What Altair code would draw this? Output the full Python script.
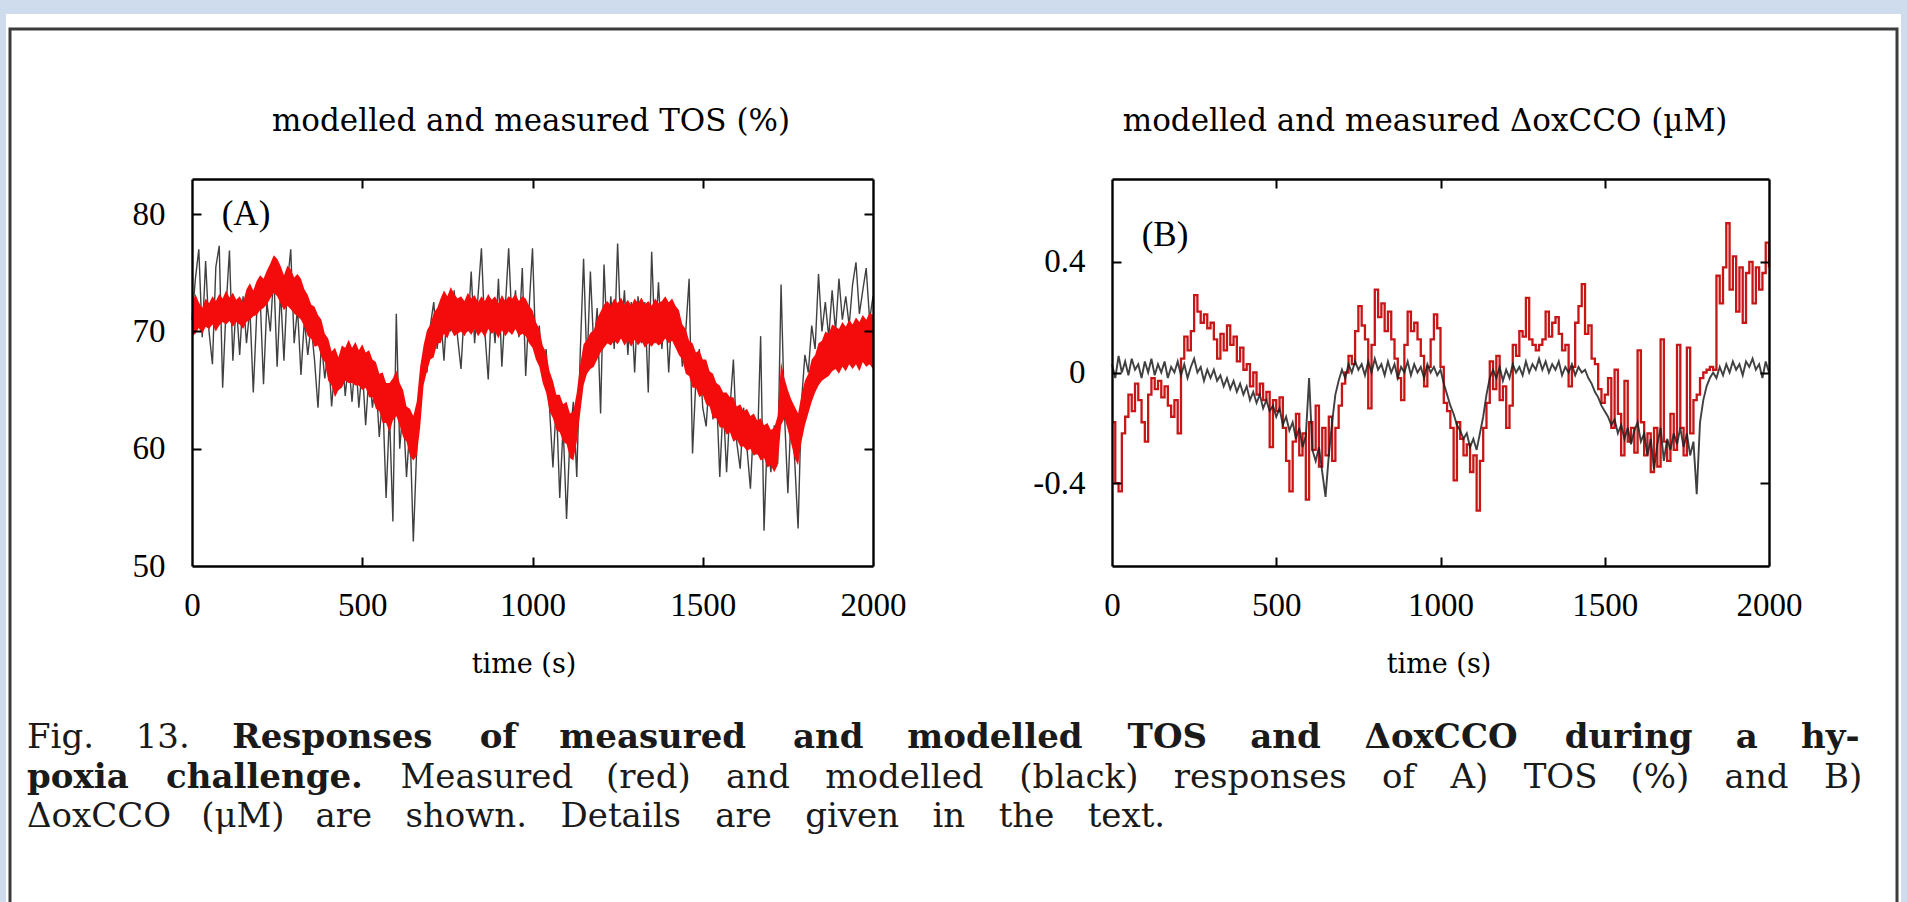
import altair as alt
import pandas as pd

# ---------------- data ----------------
t = list(range(0, 2001, 10))

# panel A, measured TOS (red): upper / lower edge of the dense noisy trace
tos_meas_hi = [
    72.3, 73.2, 72.5, 72.0, 72.8, 72.4, 73.0, 72.6, 73.2, 72.8,
    73.5, 72.9, 73.3, 72.7, 73.0, 72.5, 73.6, 74.1, 73.5, 74.3,
    74.8, 74.5, 75.2, 75.8, 76.5, 76.2, 75.6, 74.8, 75.6, 75.3,
    74.6, 74.9, 74.5, 73.6, 73.1, 72.3, 72.1, 71.4, 71.0, 69.8,
    69.4, 68.3, 68.6, 67.8, 68.8, 68.6, 69.3, 68.6, 69.1, 68.4,
    68.9, 68.2, 68.4, 67.6, 67.4, 66.4, 66.5, 65.6, 65.6, 66.0,
    66.7, 65.6, 65.0, 63.6, 63.4, 62.8, 64.0, 67.0, 68.8, 70.1,
    70.6, 71.6, 72.0, 72.8, 73.5, 73.0, 73.8, 73.2, 72.8, 73.0,
    72.6, 73.3, 72.8, 73.1, 72.5, 73.0, 72.6, 73.2, 72.7, 73.0,
    72.4, 73.1, 72.6, 73.0, 72.8, 73.2, 72.6, 73.0, 72.8, 72.2,
    71.8, 70.8, 70.2, 68.8, 68.2, 66.6, 65.8, 64.6, 64.6, 63.8,
    64.0, 63.0, 63.2, 64.8, 67.2, 68.9, 69.3, 69.9, 70.1, 71.1,
    71.7, 72.3, 72.6, 72.2, 72.8, 72.4, 72.9, 72.3, 72.7, 72.2,
    72.8, 72.4, 72.9, 72.3, 72.6, 72.2, 72.8, 72.4, 72.6, 73.0,
    72.5, 72.8, 72.2, 71.8, 70.6, 70.2, 69.2, 69.0, 68.2, 68.4,
    67.6, 67.6, 66.6, 66.4, 65.6, 65.4, 64.8, 64.8, 64.4, 64.4,
    63.6, 63.8, 63.2, 63.4, 62.8, 63.0, 62.4, 62.6, 62.0, 62.2,
    61.6, 61.8, 62.8, 67.4, 66.0, 65.0, 64.2, 63.6, 63.0, 64.6,
    65.8, 66.4, 67.6, 68.0, 69.0, 69.2, 70.0, 69.8, 70.6, 70.4,
    70.2, 70.8, 70.4, 71.0, 70.6, 71.2, 70.8, 71.4, 71.0, 71.6,
    71.4,
]
tos_meas_lo = [
    69.6, 69.8, 70.3, 69.8, 70.4, 70.2, 70.6, 70.0, 70.5, 70.8,
    70.6, 70.9, 70.4, 70.8, 70.6, 70.2, 70.8, 71.0, 71.3, 71.4,
    71.8, 72.0, 72.3, 72.8, 73.3, 73.0, 72.4, 71.8, 72.2, 71.9,
    71.5, 71.3, 71.0, 70.4, 69.6, 69.4, 68.7, 68.8, 67.8, 67.4,
    65.8, 65.4, 64.4, 65.0, 65.2, 65.8, 65.6, 65.6, 65.4, 65.4,
    65.0, 65.2, 64.4, 64.4, 63.4, 63.2, 62.2, 62.2, 61.4, 62.4,
    62.8, 62.0, 61.0, 60.6, 59.4, 59.0, 59.4, 61.8, 65.4, 66.6,
    67.6, 67.8, 69.0, 69.0, 69.8, 69.4, 70.2, 69.6, 69.8, 70.0,
    69.6, 70.1, 69.7, 70.2, 69.6, 70.0, 69.5, 70.2, 69.8, 70.0,
    69.4, 70.1, 69.6, 70.0, 69.7, 70.2, 69.6, 69.8, 69.6, 69.0,
    68.6, 67.6, 67.0, 65.6, 64.8, 63.2, 62.6, 61.6, 61.4, 60.6,
    60.4, 59.2, 59.0, 60.6, 63.0, 65.4, 66.4, 66.8, 67.0, 67.6,
    68.2, 68.6, 69.0, 68.8, 69.2, 68.9, 69.4, 68.8, 69.2, 68.7,
    69.3, 68.8, 69.2, 68.6, 69.0, 68.7, 69.1, 68.8, 69.0, 69.4,
    69.0, 69.2, 68.6, 68.0, 67.6, 66.4, 66.2, 65.2, 65.2, 64.4,
    64.6, 63.8, 63.6, 62.6, 62.6, 61.8, 61.8, 61.2, 61.4, 60.6,
    60.8, 60.2, 60.2, 59.8, 60.0, 59.4, 59.6, 59.0, 59.2, 58.4,
    58.6, 58.0, 58.6, 62.0, 62.6, 61.6, 60.4, 59.2, 58.6, 60.6,
    62.0, 63.0, 64.0, 64.8, 65.4, 65.8, 66.0, 66.2, 66.6, 66.8,
    66.4, 67.0, 66.6, 67.2, 66.8, 67.2, 66.6, 67.4, 67.0, 67.2,
    66.8,
]
# panel A, modelled TOS (black, spiky)
tos_model = [
    71.0, 74.5, 77.0, 69.5, 76.0, 70.0, 67.2, 75.5, 77.3, 65.2,
    72.0, 76.9, 67.5, 72.5, 68.0, 73.0, 69.0, 72.0, 64.8, 71.5,
    73.0, 65.5, 72.5, 70.0, 75.0, 67.0, 73.5, 67.5, 74.0, 77.0,
    69.0, 72.0, 66.3, 71.0, 68.0, 70.5, 67.5, 63.5, 69.0, 66.0,
    68.5, 63.6, 67.0, 65.0, 68.5, 64.5, 67.5, 64.0, 68.0, 63.5,
    67.0, 62.0, 66.5, 63.5, 66.0, 61.0, 64.5, 55.8, 63.0, 53.8,
    71.5, 60.0, 63.5, 57.6, 62.0, 52.1, 60.0, 64.5, 68.0, 66.5,
    70.5, 72.5, 68.5, 71.5, 67.5, 72.5, 70.0, 73.5, 69.5, 66.8,
    72.0, 70.0, 75.1, 69.0, 73.0, 77.1, 70.0, 65.9, 72.5, 69.0,
    74.5, 67.0, 72.0, 77.1, 70.5, 73.5, 69.5, 75.4, 66.2, 72.0,
    77.1, 68.0, 70.5, 66.0, 68.5, 63.5, 58.4, 64.0, 55.8, 62.0,
    54.0, 61.0, 64.0, 57.6, 68.0, 76.2, 67.0, 75.1, 68.5, 72.0,
    63.0, 75.7, 69.0, 73.0, 68.5, 77.5, 69.5, 73.5, 68.0, 72.5,
    66.5, 73.0, 69.0, 72.5, 64.8, 76.8, 69.0, 74.2, 68.5, 72.5,
    66.5, 72.0, 69.0, 71.5, 67.0, 70.0, 74.5, 59.6, 66.0, 68.5,
    63.5, 61.9, 66.5, 62.5, 65.0, 57.6, 64.0, 58.0, 63.5, 67.6,
    60.5, 58.3, 63.5, 60.0, 56.6, 62.5, 59.5, 69.6, 53.0, 61.5,
    58.0, 62.0, 58.7, 74.0, 63.0, 56.2, 63.5, 59.0, 53.2, 64.0,
    68.0, 66.5, 70.5, 68.5, 74.9, 70.0, 72.5, 69.5, 73.5, 70.0,
    74.5, 71.0, 73.0, 70.5, 74.0, 75.9, 71.5, 73.5, 75.4, 71.0,
    73.0,
]
# panel B, measured dOxCCO (red, stepped)
cco_meas = [
    -0.18, -0.40, -0.43, -0.22, -0.16, -0.08, -0.14, -0.04, -0.10, -0.18,
    -0.25, -0.08, -0.02, -0.06, -0.03, -0.09, -0.05, -0.12, -0.16, -0.10,
    -0.22, 0.05, 0.13, 0.08, 0.15, 0.28, 0.22, 0.18, 0.21, 0.16,
    0.18, 0.12, 0.05, 0.14, 0.08, 0.17, 0.10, 0.13, 0.04, 0.09,
    0.01, 0.03, -0.05, 0.00, -0.08, -0.04, -0.10, -0.07, -0.27, -0.10,
    -0.14, -0.09, -0.20, -0.32, -0.43, -0.25, -0.15, -0.30, -0.22, -0.46,
    -0.18, -0.28, -0.12, -0.34, -0.20, -0.30, -0.16, -0.32, -0.20, -0.12,
    -0.04, 0.00, 0.06, 0.03, 0.15, 0.24, 0.17, 0.12, -0.13, 0.10,
    0.30, 0.20, 0.25, 0.15, 0.22, 0.12, 0.05, -0.02, -0.10, 0.10,
    0.22, 0.15, 0.18, 0.12, 0.06, -0.05, 0.02, 0.12, 0.21, 0.16,
    0.02, -0.11, -0.14, -0.20, -0.39, -0.18, -0.24, -0.30, -0.26, -0.36,
    -0.30, -0.50, -0.32, -0.20, -0.11, 0.04, -0.06, 0.06, -0.10, -0.05,
    -0.20, -0.12, 0.10, 0.06, 0.15, 0.13, 0.27, 0.12, 0.10, 0.08,
    0.10, 0.12, 0.22, 0.13, 0.18, 0.20, 0.14, 0.08, 0.10, -0.05,
    0.02, 0.18, 0.24, 0.32, 0.14, 0.17, 0.05, 0.03, -0.06, -0.11,
    -0.08, -0.02, -0.20, 0.01, -0.15, -0.30, -0.03, -0.25, -0.20, -0.29,
    0.08, -0.18, -0.30, -0.22, -0.36, -0.20, -0.34, 0.12, -0.25, -0.32,
    -0.15, -0.28, 0.10, -0.20, -0.30, 0.09, -0.22, -0.10, -0.08, -0.02,
    0.00, 0.01, 0.02, 0.01, 0.35, 0.25, 0.38, 0.54, 0.30, 0.42,
    0.22, 0.38, 0.18, 0.36, 0.40, 0.25, 0.38, 0.30, 0.36, 0.47,
    0.38,
]
# panel B, modelled dOxCCO (black)
cco_model = [
    0.03, -0.02, 0.06, 0.00, 0.04, -0.01, 0.05, 0.01, 0.03, -0.02,
    0.04, 0.00, 0.05, -0.01, 0.03, 0.00, 0.04, -0.02, 0.02, 0.00,
    0.04, -0.01, 0.03, -0.02, 0.02, 0.05, 0.00, 0.02, -0.03, 0.01,
    -0.02, 0.01, -0.03, -0.01, -0.05, -0.02, -0.06, -0.03, -0.07, -0.04,
    -0.08, -0.05, -0.10, -0.07, -0.11, -0.08, -0.13, -0.10, -0.14, -0.12,
    -0.16, -0.13, -0.19, -0.16, -0.21, -0.18, -0.24, -0.20, -0.27, -0.23,
    -0.02, -0.28, -0.32, -0.27, -0.36, -0.45, -0.30, -0.18, -0.08, -0.03,
    0.01, -0.02, 0.03, 0.00, 0.04, 0.01, 0.03, -0.01, 0.04, 0.00,
    0.05, 0.01, 0.03, -0.01, 0.04, 0.00, 0.03, -0.02, 0.02, 0.00,
    0.04, -0.01, 0.03, 0.00, 0.02, -0.02, 0.03, 0.00, 0.02, -0.01,
    0.01, -0.04, -0.08, -0.12, -0.15, -0.19, -0.21, -0.24, -0.22, -0.27,
    -0.24, -0.28, -0.22, -0.16, -0.08, -0.02, 0.01, -0.02, 0.02, -0.03,
    0.01, -0.02, 0.03, 0.00, 0.02, -0.01, 0.04, 0.00, 0.03, 0.01,
    0.05, 0.01, 0.04, 0.00, 0.03, 0.01, 0.04, -0.01, 0.02, 0.00,
    0.03, -0.01, 0.02, 0.00, 0.01, -0.02, -0.04, -0.07, -0.09, -0.12,
    -0.14, -0.16, -0.19, -0.17, -0.22, -0.19, -0.24, -0.20, -0.26, -0.21,
    -0.18, -0.25, -0.22, -0.30, -0.24, -0.35, -0.26, -0.20, -0.32, -0.24,
    -0.28, -0.22, -0.26, -0.20, -0.27, -0.22, -0.30, -0.25, -0.44, -0.18,
    -0.10, -0.05, -0.02, 0.00, -0.02, 0.02, -0.01, 0.03, 0.00, 0.04,
    0.01, 0.03, -0.01, 0.04, 0.02, 0.05, 0.01, 0.03, -0.02, 0.04,
    0.00,
]

x_ticks = [0, 500, 1000, 1500, 2000]
x_inner_ticks = [500, 1000, 1500]
tos_ticks = [50, 60, 70, 80]
tos_inner_ticks = [60, 70, 80]
cco_ticks = [-0.4, 0, 0.4]
x_domain = [0, 2000]
tos_domain = [50, 83]
cco_domain = [-0.7, 0.7]

title_a = "modelled and measured TOS (%)"
title_b = "modelled and measured \u0394oxCCO (\u00b5M)"
panel_a = "(A)"
panel_b = "(B)"
x_title = "time (s)"
caption = [
    [("Fig.", False), ("13.", False), ("Responses", True), ("of", True),
     ("measured", True), ("and", True), ("modelled", True), ("TOS", True),
     ("and", True), ("\u0394oxCCO", True), ("during", True), ("a", True),
     ("hy-", True)],
    [("poxia", True), ("challenge.", True), ("Measured", False), ("(red)", False),
     ("and", False), ("modelled", False), ("(black)", False), ("responses", False),
     ("of", False), ("A)", False), ("TOS", False), ("(%)", False), ("and", False),
     ("B)", False)],
    [("\u0394oxCCO", False), ("(\u03bcM)", False), ("are", False), ("shown.", False),
     ("Details", False), ("are", False), ("given", False), ("in", False),
     ("the", False), ("text.", False)],
]

# ---------------- layout ----------------
W, H = 1907, 902
AX0, AX1 = 192, 873
BX0, BX1 = 1112, 1769
YT, YB = 179, 566
SERIF = "DejaVu Serif"
TIMES = "Liberation Serif"
RED_A = "#f40c0c"
RED_B = "#c81616"
BLACK = "#1e1e1e"
BLUE_BG = "#cfdcee"

LINE_X = [(27, 1860), (27, 1861), (27, 1165)]
LINE_Y = [738, 778, 817]
CAP_SIZE = 34

CW = {' ': 0.318, 'a': 0.597, 'b': 0.640, 'c': 0.560, 'd': 0.640, 'e': 0.592,
      'f': 0.371, 'g': 0.640, 'h': 0.645, 'i': 0.320, 'j': 0.313, 'k': 0.604,
      'l': 0.320, 'm': 0.960, 'n': 0.645, 'o': 0.602, 'p': 0.640, 'q': 0.640,
      'r': 0.478, 's': 0.513, 't': 0.400, 'u': 0.645, 'v': 0.565, 'w': 0.856,
      'x': 0.564, 'y': 0.565, 'z': 0.527, 'A': 0.722, 'B': 0.700, 'C': 0.733,
      'D': 0.824, 'F': 0.665, 'M': 0.948, 'O': 0.787, 'R': 0.764, 'S': 0.644,
      'T': 0.670, '.': 0.318, '(': 0.390, ')': 0.390, '%': 0.950, '-': 0.338,
      '\u0394': 0.722, '\u03bc': 0.650}
for d in "0123456789":
    CW[d] = 0.636


def word_width(word, bold):
    return sum(CW.get(c, 0.6) for c in word) * CAP_SIZE * (1.12 if bold else 1.0)


rows = []
for words, (x0, x1), y in zip(caption, LINE_X, LINE_Y):
    widths = [word_width(w, b) for w, b in words]
    gap = (x1 - x0 - sum(widths)) / (len(words) - 1)
    x = x0
    for (w, b), wd in zip(words, widths):
        rows.append({"text": w, "x": x, "y": y, "bold": b})
        x += wd + gap
cap_df = pd.DataFrame(rows)


def ax(orient, offset, values, labels=False, domain=False, tick=0, **kw):
    return alt.Axis(orient=orient, offset=offset, values=values, labels=labels,
                    domain=domain, ticks=tick > 0, tickSize=tick, grid=False,
                    title=None, zindex=1, domainColor="black", domainWidth=2.4,
                    tickColor="black", tickWidth=2, labelFont=TIMES,
                    labelFontSize=33, labelColor="black", labelFlush=False,
                    labelOverlap=False, **kw)


one = pd.DataFrame({"k": [0]})

# decorations: page band and white figure box
bg_white = alt.Chart(one).mark_rect(fill="white").encode(
    x=alt.value(6), x2=alt.value(1901), y=alt.value(14), y2=alt.value(H + 5))
box = alt.Chart(one).mark_rect(fill="white", stroke="#3c3c3c", strokeWidth=3).encode(
    x=alt.value(10), x2=alt.value(1897), y=alt.value(29), y2=alt.value(H + 10))

# ---------- panel A ----------
dfA = pd.DataFrame({"t": t, "hi": tos_meas_hi, "lo": tos_meas_lo, "model": tos_model})
xA = alt.Scale(domain=x_domain, range=[AX0, AX1], nice=False)
yA = alt.Scale(domain=tos_domain, range=[YB, YT], nice=False, zero=False)
a_model = alt.Chart(dfA).mark_line(color=BLACK, strokeWidth=1.4, opacity=0.85).encode(
    x=alt.X("t:Q", scale=xA, axis=ax("bottom", YB - H, x_ticks, labels=True,
                                     domain=True, labelPadding=23, format="d")),
    y=alt.Y("model:Q", scale=yA, axis=ax("left", -AX0, tos_ticks, labels=True,
                                         domain=True, labelPadding=27)))
a_band = alt.Chart(dfA).mark_area(color=RED_A, opacity=1).encode(
    x=alt.X("t:Q", scale=xA, axis=ax("top", -YB, x_inner_ticks, tick=9)),
    y=alt.Y("lo:Q", scale=yA, axis=ax("right", AX0 - W, tos_inner_ticks, tick=9)),
    y2="hi:Q")
a_frame = alt.Chart(dfA).mark_line(opacity=0).encode(
    x=alt.X("t:Q", scale=xA, axis=ax("bottom", YT - H, x_inner_ticks, domain=True, tick=9)),
    y=alt.Y("model:Q", scale=yA, axis=ax("left", -AX1, tos_inner_ticks, domain=True, tick=9)))
panelA = alt.layer(a_model, a_band, a_frame).resolve_axis(x="independent", y="independent")

# ---------- panel B ----------
dfB = pd.DataFrame({"t": t, "meas": cco_meas, "model": cco_model})
xB = alt.Scale(domain=x_domain, range=[BX0, BX1], nice=False)
yB = alt.Scale(domain=cco_domain, range=[YB, YT], nice=False, zero=False)
cco_label = ("datum.value < 0 ? '-' + format(-datum.value, '.1f') : "
             "(datum.value == 0 ? '0' : format(datum.value, '.1f'))")
b_meas = alt.Chart(dfB).mark_line(color=RED_B, strokeWidth=2.3,
                                  interpolate="step-after").encode(
    x=alt.X("t:Q", scale=xB, axis=ax("bottom", YB - H, x_ticks, labels=True,
                                     domain=True, labelPadding=23, format="d")),
    y=alt.Y("meas:Q", scale=yB, axis=ax("left", -BX0, cco_ticks, labels=True,
                                        domain=True, labelPadding=27,
                                        labelExpr=cco_label)))
b_model = alt.Chart(dfB).mark_line(color=BLACK, strokeWidth=1.9, opacity=0.85).encode(
    x=alt.X("t:Q", scale=xB, axis=ax("top", -YB, x_inner_ticks, tick=9)),
    y=alt.Y("model:Q", scale=yB, axis=ax("right", BX0 - W, cco_ticks, tick=9)))
b_frame = alt.Chart(dfB).mark_line(opacity=0).encode(
    x=alt.X("t:Q", scale=xB, axis=ax("bottom", YT - H, x_inner_ticks, domain=True, tick=9)),
    y=alt.Y("model:Q", scale=yB, axis=ax("left", -BX1, cco_ticks, domain=True, tick=9)))
panelB = alt.layer(b_meas, b_model, b_frame).resolve_axis(x="independent", y="independent")


# ---------- texts ----------
def label(text, x, y, size, font=SERIF):
    return alt.Chart(one).mark_text(text=text, font=font, fontSize=size, color="black",
                                    align="center", baseline="middle").encode(
        x=alt.value(x), y=alt.value(y))


texts = [
    label(title_a, 531, 122, 31),
    label(title_b, 1425, 122, 31),
    label(panel_a, 246, 214, 35, TIMES),
    label(panel_b, 1165, 235, 35, TIMES),
    label(x_title, 524, 665, 27),
    label(x_title, 1439, 665, 27),
]

cap_regular = alt.Chart(cap_df[~cap_df["bold"]]).mark_text(
    font=SERIF, fontSize=CAP_SIZE, color="#1a1a1a", align="left", baseline="middle").encode(
    x=alt.X("x:Q", scale=None, axis=None), y=alt.Y("y:Q", scale=None, axis=None),
    text="text:N")
cap_bold = alt.Chart(cap_df[cap_df["bold"]]).mark_text(
    font=SERIF, fontSize=CAP_SIZE, fontWeight="bold", color="#1a1a1a", align="left",
    baseline="middle").encode(
    x=alt.X("x:Q", scale=None, axis=None), y=alt.Y("y:Q", scale=None, axis=None),
    text="text:N")

chart = alt.layer(
    bg_white, box, panelA, panelB, *texts, cap_regular, cap_bold
).resolve_scale(
    x="independent", y="independent"
).resolve_axis(
    x="independent", y="independent"
).properties(
    width=W, height=H, padding=0, background=BLUE_BG,
    autosize=alt.AutoSizeParams(type="none"),
).configure_view(strokeWidth=0)

chart.save("out.html", embed_options={"renderer": "svg", "actions": False})
